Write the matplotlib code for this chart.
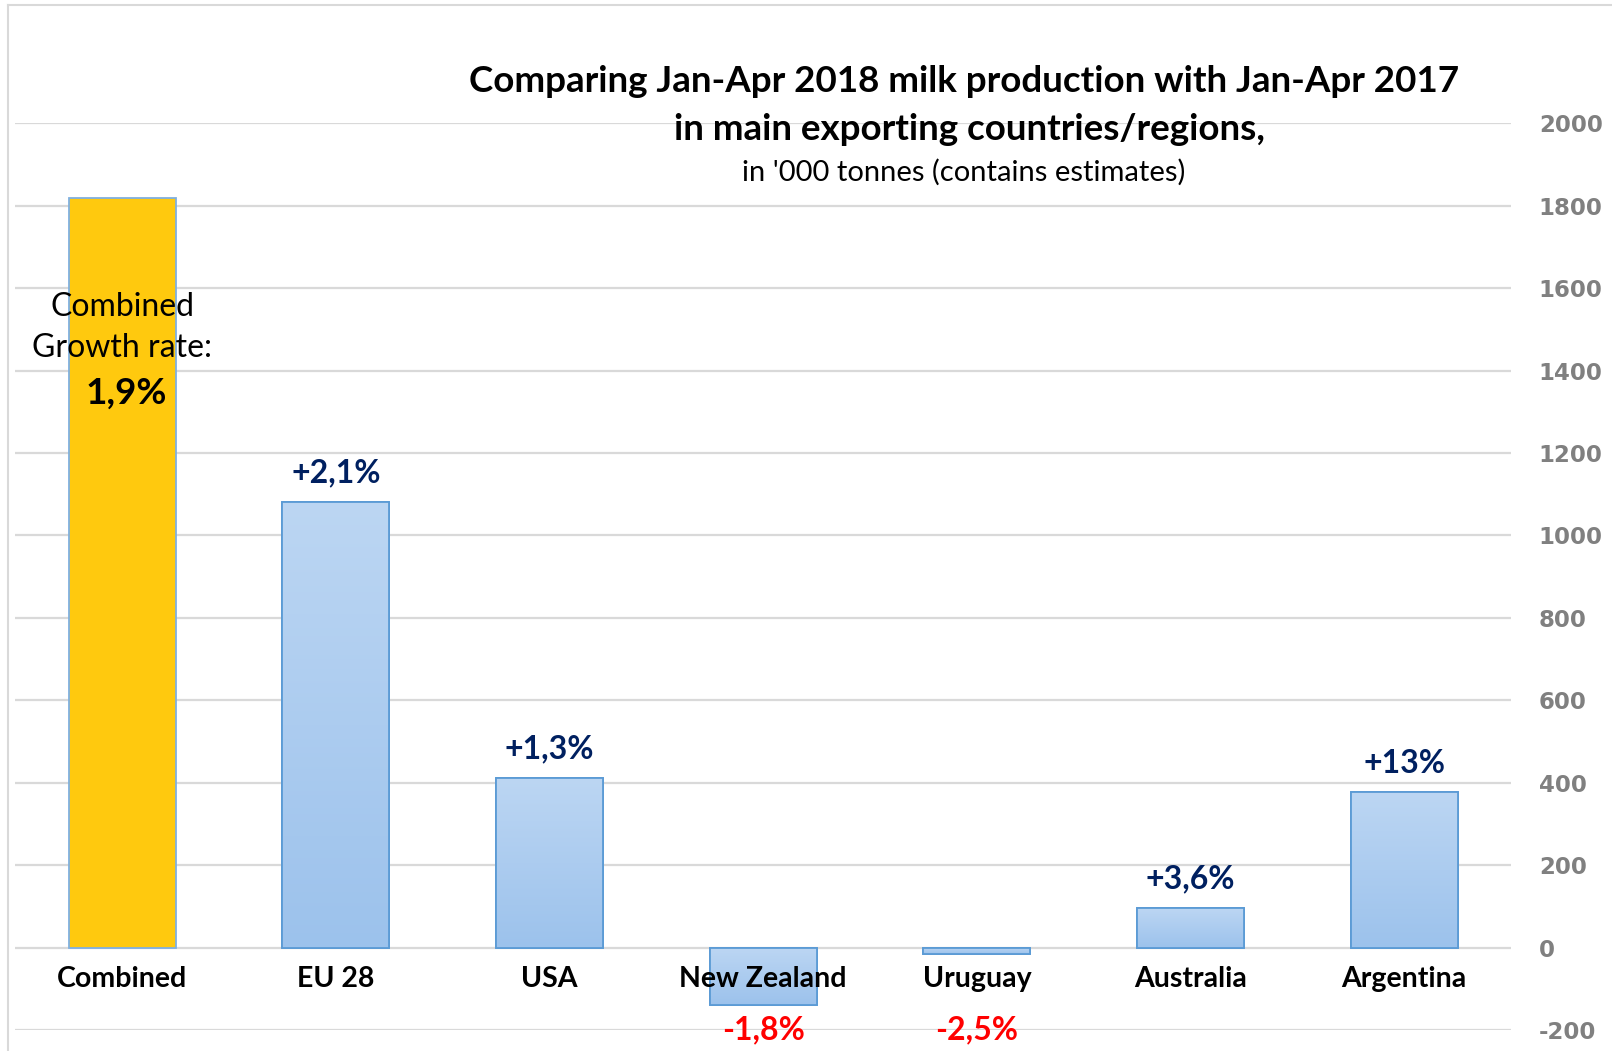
import matplotlib
matplotlib.use("Agg")
import matplotlib.pyplot as plt
import numpy as np
from matplotlib.patches import Rectangle
from matplotlib.colors import LinearSegmentedColormap

categories = ["Combined", "EU 28", "USA", "New Zealand", "Uruguay", "Australia", "Argentina"]
changes = [1818, 1082, 411, -140, -15, 97, 377]
pct_labels = ["", "+2,1%", "+1,3%", "-1,8%", "-2,5%", "+3,6%", "+13%"]
yticks = [-200, 0, 200, 400, 600, 800, 1000, 1200, 1400, 1600, 1800, 2000]
title1 = "Comparing Jan-Apr 2018 milk production with Jan-Apr 2017"
title2 = "in main exporting countries/regions,"
subtitle = "in '000 tonnes (contains estimates)"
combined_note = "Combined\nGrowth rate:"
combined_rate = "1,9%"

FONT = ["Lato", "DejaVu Sans"]
W, H = 1612, 1051
fig = plt.figure(figsize=(W / 100, H / 100), dpi=100)
ax = fig.add_axes([15.4 / W, 1 - 1030 / H, (1511 - 15.4) / W, (1030 - 123.4) / H])

x = np.arange(len(categories))
ax.set_xlim(-0.5, len(categories) - 0.5)
ax.set_ylim(-200, 2000)

for s in ax.spines.values():
    s.set_visible(False)
ax.yaxis.tick_right()
ax.set_yticks(yticks)
ax.set_yticklabels([str(t) for t in yticks], fontsize=16.5, fontweight="bold",
                   color="#808080", family="DejaVu Sans")
ax.tick_params(axis="y", length=0, pad=20)
ax.set_xticks([])
ax.grid(axis="y", color="#d9d9d9", lw=1.6, zorder=0)
ax.set_axisbelow(True)

grad = np.linspace(0, 1, 256).reshape(-1, 1)
cmap = LinearSegmentedColormap.from_list("bl", ["#bcd6f3", "#9cc2ec"])

colors = ["#FFC90E"] + ["#aecbef"] * (len(categories) - 1)
bars = ax.bar(x, changes, width=0.5, color=colors, edgecolor="#5b9bd5", lw=1.3, zorder=2)
for i, b in enumerate(bars):
    if i == 0:
        b.set_edgecolor("#7fb0e0")
        continue
    x0 = b.get_x(); w = b.get_width(); y0 = b.get_y(); h = b.get_height()
    lo, hi = min(y0, y0 + h), max(y0, y0 + h)
    im = ax.imshow(grad, extent=[x0, x0 + w, lo, hi], aspect="auto", cmap=cmap,
                   origin="upper", zorder=2.1)
    im.set_clip_path(b)
    edge = Rectangle((x0, y0), w, h, fill=False, edgecolor="#5b9bd5", lw=1.3, zorder=2.2)
    ax.add_patch(edge)

for i, c in enumerate(categories):
    ax.annotate(c, (x[i], 0), xytext=(0, -22.5), textcoords="offset points",
                ha="center", va="center", fontsize=20.5, fontweight="bold",
                color="black", family=FONT, zorder=5)

for i, (v, p) in enumerate(zip(changes, pct_labels)):
    if not p:
        continue
    if v >= 0:
        ax.annotate(p, (x[i], v), xytext=(0, 21), textcoords="offset points",
                    ha="center", va="center", fontsize=23, fontweight="bold",
                    color="#002060", family=FONT, zorder=5)
    else:
        ax.annotate(p, (x[i], -200), xytext=(0, 0), textcoords="offset points",
                    ha="center", va="center", fontsize=23, fontweight="bold",
                    color="#ff0000", family=FONT, zorder=5)

ax.text(x[0], 1504, combined_note, ha="center", va="center", fontsize=23,
        color="black", family=FONT, linespacing=1.47, zorder=5)
ax.text(x[0] + 0.02, 1345, combined_rate, ha="center", va="center", fontsize=26.5,
        fontweight="bold", color="black", family=FONT, zorder=5)

fig.text(964 / W, 1 - 81 / H, title1, ha="center", va="center", fontsize=26.5,
         fontweight="bold", family=FONT)
fig.text(969 / W, 1 - 129 / H, title2, ha="center", va="center", fontsize=26.5,
         fontweight="bold", family=FONT)
fig.text(964 / W, 1 - 172 / H, subtitle, ha="center", va="center", fontsize=21,
         family=FONT)

fig.add_artist(plt.Line2D([8 / W, 8 / W], [0, 1 - 5 / H], color="#d9d9d9", lw=1.5))
fig.add_artist(plt.Line2D([8 / W, 1], [1 - 5 / H, 1 - 5 / H], color="#d9d9d9", lw=1.5))

fig.savefig("out.png", dpi=100)
